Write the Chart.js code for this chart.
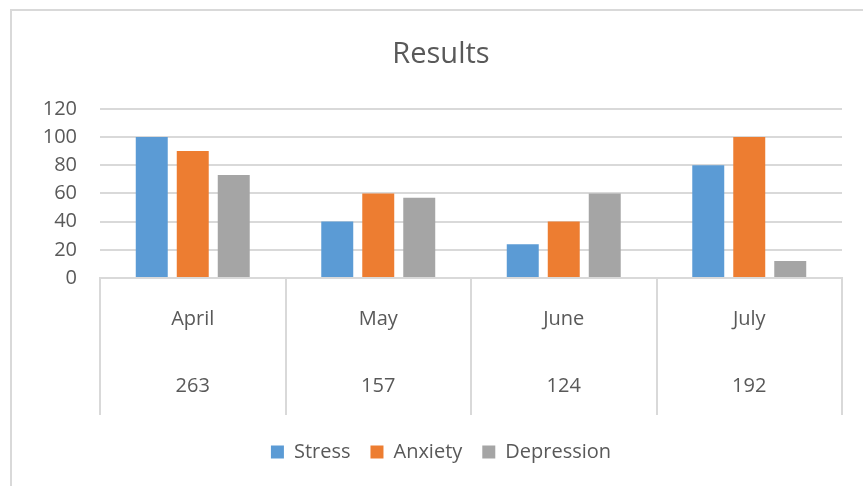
<!DOCTYPE html>
<html>
<head>
<meta charset="utf-8">
<script src="https://cdn.jsdelivr.net/npm/chart.js@4"></script>
<style>
  html, body { margin: 0; padding: 0; background: #fff; }
  #frame { position: absolute; left: 10px; top: 9px; width: 900px; height: 520px;
           border-left: 2px solid #d9d9d9; border-top: 2px solid #d9d9d9; }
  #wrap { position: absolute; left: 0; top: 0; width: 863px; height: 486px; }
</style>
</head>
<body>
<div id="frame"></div>
<div id="wrap"><canvas id="c" width="863" height="486"></canvas></div>
<script>
const months = ['April', 'May', 'June', 'July'];
const totals = ['263', '157', '124', '192'];
const stress = [100, 40, 24, 80];
const anxiety = [90, 60, 40, 100];
const depression = [73, 57, 60, 12];
const yTicks = [0, 20, 40, 60, 80, 100, 120];

const TEXT = '#595959';
const GRID = '#d9d9d9';
const FONT = "'Open Sans', sans-serif";

Chart.defaults.font.family = FONT;
Chart.defaults.color = TEXT;

new Chart(document.getElementById('c'), {
  type: 'bar',
  data: {
    labels: months.map((m, i) => [m, totals[i]]),
    datasets: [
      { label: 'Stress', data: stress, backgroundColor: '#5B9BD5' },
      { label: 'Anxiety', data: anxiety, backgroundColor: '#ED7D31' },
      { label: 'Depression', data: depression, backgroundColor: '#A5A5A5' }
    ]
  },
  options: {
    responsive: false,
    animation: false,
    devicePixelRatio: 1,
    layout: { padding: { left: 40, right: 21, top: 0, bottom: 14 } },
    datasets: { bar: { categoryPercentage: 0.663, barPercentage: 0.78 } },
    plugins: {
      title: {
        display: true,
        text: 'Results',
        color: TEXT,
        font: { family: FONT, size: 29, weight: 'normal', lineHeight: 1.2 },
        padding: { top: 37, bottom: 37 }
      },
      legend: {
        position: 'bottom',
        labels: {
          boxWidth: 13, boxHeight: 13, padding: 20,
          color: TEXT,
          font: { family: FONT, size: 20 }
        }
      },
      tooltip: { enabled: false }
    },
    scales: {
      x: {
        offset: true,
        grid: { drawOnChartArea: false, color: GRID, lineWidth: 2, tickLength: 137, offset: true },
        border: { display: true, color: GRID, width: 2 },
        ticks: {
          color: TEXT,
          padding: -129.5,
          maxRotation: 0,
          font: { family: FONT, size: 20, lineHeight: 3.35 }
        },
        afterFit: (s) => { s.height = 144; }
      },
      y: {
        min: yTicks[0],
        max: yTicks[yTicks.length - 1],
        afterBuildTicks: (s) => { s.ticks = yTicks.map(v => ({ value: v })); },
        grid: { color: GRID, lineWidth: 2, drawTicks: false },
        border: { display: false },
        ticks: { color: TEXT, padding: 23, font: { family: FONT, size: 20 } },
        afterFit: (s) => { s.width = 60; }
      }
    }
  }
});
</script>
</body>
</html>
